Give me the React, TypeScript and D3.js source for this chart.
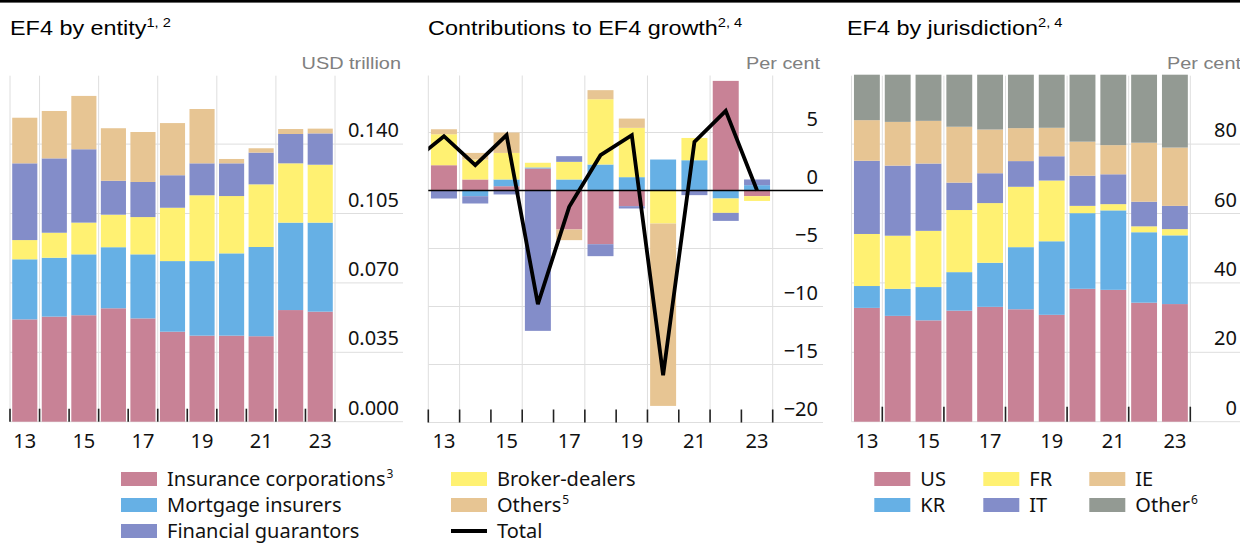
import React from 'react';
import * as d3 from 'd3';

// ---------- DATA ----------
const years = ['2013', '2014', '2015', '2016', '2017', '2018', '2019', '2020', '2021', '2022', '2023'];
const yearTickLabels = ['13', '15', '17', '19', '21', '23'];

// Panel 1: EF4 by entity (USD trillion)
const entityInsurance = [0.0516, 0.053, 0.0537, 0.0572, 0.0521, 0.0454, 0.0434, 0.0434, 0.0431, 0.0563, 0.0555];
const entityMortgage = [0.0303, 0.0297, 0.0307, 0.0308, 0.0323, 0.0356, 0.0376, 0.0415, 0.045, 0.0441, 0.0449];
const entityBroker = [0.0097, 0.0126, 0.016, 0.0164, 0.0188, 0.0269, 0.0332, 0.0289, 0.0316, 0.0299, 0.0292];
const entityGuarantors = [0.0387, 0.0375, 0.037, 0.0171, 0.0177, 0.0164, 0.0161, 0.0165, 0.016, 0.0148, 0.0158];
const entityOthers = [0.023, 0.0239, 0.0269, 0.0265, 0.0252, 0.0263, 0.0274, 0.0022, 0.0022, 0.0025, 0.0024];
const entityTicks = [0, 0.035, 0.07, 0.105, 0.14];
const entityTickLabels = ['0.000', '0.035', '0.070', '0.105', '0.140'];

// Panel 2: Contributions to EF4 growth (per cent)
const growthInsurance = [2.18, 0.95, 0.37, 1.9, -3.36, -4.63, -1.35, 0, 0, 9.45, -0.49];
const growthMortgage = [0, -0.49, 0.58, 0.09, 0.95, 2.24, 1.15, 2.67, 2.61, -0.69, 0.46];
const growthBroker = [2.67, 1.72, 2.29, 0.4, 1.52, 5.63, 4.25, -2.85, 1.92, -1.24, -0.41];
const growthGuarantors = [-0.69, -0.63, -0.34, -12.1, 0.49, -1.03, -0.2, 0, -0.4, -0.69, 0.49];
const growthOthers = [0.43, 0.57, 1.76, 0, -0.92, 0.78, 0.8, -15.72, 0, 0, 0];
const totalYears = [2012, 2013, 2014, 2015, 2016, 2017, 2018, 2019, 2020, 2021, 2022, 2023];
const growthTotal = [2.5, 4.68, 2.18, 4.77, -9.8, -1.41, 3.04, 4.77, -15.92, 4.19, 6.86, 0.0];
const growthTicks = [5, 0, -5, -10, -15, -20];

// Panel 3: EF4 by jurisdiction (per cent)
const jurUS = [32.8, 30.5, 29.2, 32.0, 33.1, 32.4, 30.8, 38.3, 38.0, 34.3, 33.9];
const jurKR = [6.3, 7.8, 9.6, 11.1, 12.7, 17.9, 21.2, 21.8, 22.9, 20.3, 19.8];
const jurFR = [15.0, 15.3, 16.2, 17.9, 17.2, 17.4, 17.5, 2.1, 1.8, 1.7, 1.8];
const jurIT = [21.1, 20.2, 19.4, 7.9, 8.6, 7.4, 7.0, 8.7, 8.6, 7.1, 6.7];
const jurIE = [11.7, 12.6, 12.3, 16.1, 12.6, 9.5, 8.2, 9.8, 8.4, 17.0, 16.8];
const jurOther = [13.1, 13.6, 13.3, 15.0, 15.8, 15.4, 15.3, 19.3, 20.3, 19.6, 21.0];
const jurTicks = [0, 20, 40, 60, 80];

// ---------- STYLE ----------
const C = {
  pink: '#c88296',
  blue: '#66b0e5',
  yellow: '#fff172',
  purple: '#838dc9',
  tan: '#e7c593',
  grey: '#939a93',
};
const GRID = '#dedede';
const SANS = "'Noto Sans', 'Open Sans', sans-serif";
const ARIAL = "'Liberation Sans', Arial, sans-serif";
const STRETCH = 1.17;

type Series = { key: string; values: number[]; color: string };

type PanelCfg = {
  x0: number;
  x1: number;
  top: number;
  bottom: number;
  domain: [number, number];
  padding: number;
  gridRight: number;
  labelRight: number;
  ticks: number[];
  tickLabels: string[];
  allTicks: boolean;
  tickLen: number;
  zeroLine?: boolean;
};

function Panel({ cfg, series, diverging, children }: { cfg: PanelCfg; series: Series[]; diverging?: boolean; children?: (x: d3.ScaleBand<string>, y: d3.ScaleLinear<number, number>) => React.ReactNode }) {
  const x = d3.scaleBand<string>().domain(years).range([cfg.x0, cfg.x1]).paddingInner(cfg.padding).paddingOuter(cfg.padding / 2);
  const y = d3.scaleLinear().domain(cfg.domain).range([cfg.bottom, cfg.top]);
  const rows = years.map((yr, i) => {
    const r: any = { year: yr };
    series.forEach((s) => (r[s.key] = s.values[i]));
    return r;
  });
  const stack = d3
    .stack<any>()
    .keys(series.map((s) => s.key))
    .offset(diverging ? d3.stackOffsetDiverging : d3.stackOffsetNone);
  const stacked = stack(rows);
  const step = x.step();
  const boundary = (i: number) => cfg.x0 + i * step;
  const vLines = [0, 1, 3, 5, 7, 9, 11];
  const tickIdx = cfg.allTicks ? d3.range(0, 12) : [1, 3, 5, 7, 9, 11];
  const base = y(cfg.domain[0]);
  return (
    <g>
      {cfg.ticks.map((t) => (
        <line key={'h' + t} x1={cfg.x0} x2={cfg.gridRight} y1={y(t)} y2={y(t)} stroke={GRID} strokeWidth={1} />
      ))}
      {vLines.map((i) => (
        <line key={'v' + i} x1={boundary(i)} x2={boundary(i)} y1={cfg.top + 1} y2={base} stroke={GRID} strokeWidth={1} />
      ))}
      {stacked.map((layer, li) => (
        <g key={layer.key} fill={series[li].color}>
          {layer.map((d, i) => {
            const y0 = y(d[0]);
            const y1 = y(d[1]);
            const h = Math.abs(y0 - y1);
            if (h < 0.01) return null;
            return <rect key={i} x={x(years[i])} y={Math.min(y0, y1)} width={x.bandwidth()} height={h} />;
          })}
        </g>
      ))}
      {cfg.zeroLine && <line x1={cfg.x0} x2={cfg.gridRight} y1={y(0)} y2={y(0)} stroke="#000" strokeWidth={1.6} />}
      {tickIdx.map((i) => (
        <line key={'t' + i} x1={boundary(i)} x2={boundary(i)} y1={base} y2={base - cfg.tickLen} stroke="#222" strokeWidth={1.6} />
      ))}
      {children && children(x, y)}
      {cfg.ticks.map((t, i) => (
        <text key={'l' + t} x={cfg.labelRight} y={y(t) - 7} textAnchor="end" fontFamily={SANS} fontSize={20} fill="#111">
          {cfg.tickLabels[i]}
        </text>
      ))}
      {yearTickLabels.map((lab, k) => (
        <text key={'x' + lab} x={(x(years[k * 2]) as number) + x.bandwidth() / 2} y={448} textAnchor="middle" fontFamily={SANS} fontSize={20} fill="#111">
          {lab}
        </text>
      ))}
    </g>
  );
}

function Title({ x, text, sup }: { x: number; text: string; sup: string }) {
  return (
    <text transform={`translate(${x},34.5) scale(${STRETCH},1)`} fontFamily={ARIAL} fontSize={20} fill="#000">
      {text}
      <tspan fontSize={12.5} dy={-8}>{sup}</tspan>
    </text>
  );
}

function Unit({ x, text }: { x: number; text: string }) {
  return (
    <text transform={`translate(${x},68.5) scale(${STRETCH},1)`} textAnchor="end" fontFamily={ARIAL} fontSize={17} fill="#808080">
      {text}
    </text>
  );
}

type LegendItem = { label: string; sup?: string; color: string; line?: boolean };

function Legend({ itemsByCol, colX }: { itemsByCol: LegendItem[][]; colX: number[] }) {
  return (
    <g>
      {itemsByCol.map((col, ci) =>
        col.map((it, ri) => {
          const sx = colX[ci];
          const cy = 479 + ri * 26;
          return (
            <g key={ci + '-' + ri}>
              {it.line ? (
                <line x1={sx} x2={sx + 36} y1={cy} y2={cy} stroke="#000" strokeWidth={3.8} />
              ) : (
                <rect x={sx} y={cy - 7} width={36} height={14} fill={it.color} />
              )}
              <text x={sx + 46} y={cy + 7} fontFamily={SANS} fontSize={20} fill="#111">
                {it.label}
              </text>
              {it.sup && (
                <text x={sx + 46 + measure(it.label) + 1} y={cy - 1} fontFamily={SANS} fontSize={12} fill="#111">
                  {it.sup}
                </text>
              )}
            </g>
          );
        })
      )}
    </g>
  );
}

// approximate width of a label in Noto Sans 20px using a canvas measurement
let ctx: CanvasRenderingContext2D | null = null;
function measure(s: string): number {
  if (typeof document === 'undefined') return s.length * 10;
  if (!ctx) {
    const c = document.createElement('canvas');
    ctx = c.getContext('2d');
  }
  if (!ctx) return s.length * 10;
  ctx.font = "20px 'Noto Sans'";
  return ctx.measureText(s).width;
}

export default function App() {
  const p1: PanelCfg = {
    x0: 10, x1: 335, top: 74.7, bottom: 421.7, domain: [0, 0.175], padding: 0.15,
    gridRight: 403, labelRight: 399, ticks: entityTicks, tickLabels: entityTickLabels, allTicks: true, tickLen: 13,
  };
  const p2: PanelCfg = {
    x0: 428.3, x1: 772.7, top: 74.5, bottom: 422.5, domain: [-20, 10], padding: 0.17,
    gridRight: 823, labelRight: 818, ticks: growthTicks, tickLabels: growthTicks.map((t) => (t < 0 ? '\u2212' + Math.abs(t) : String(t))),
    allTicks: true, tickLen: 13, zeroLine: true,
  };
  const p3: PanelCfg = {
    x0: 851.5, x1: 1190.3, top: 74.7, bottom: 421.7, domain: [0, 100], padding: 0.16,
    gridRight: 1240, labelRight: 1237, ticks: jurTicks, tickLabels: jurTicks.map(String), allTicks: false, tickLen: 15,
  };

  const entitySeries: Series[] = [
    { key: 'Insurance corporations', values: entityInsurance, color: C.pink },
    { key: 'Mortgage insurers', values: entityMortgage, color: C.blue },
    { key: 'Broker-dealers', values: entityBroker, color: C.yellow },
    { key: 'Financial guarantors', values: entityGuarantors, color: C.purple },
    { key: 'Others', values: entityOthers, color: C.tan },
  ];
  const growthSeries: Series[] = [
    { key: 'Insurance corporations', values: growthInsurance, color: C.pink },
    { key: 'Mortgage insurers', values: growthMortgage, color: C.blue },
    { key: 'Broker-dealers', values: growthBroker, color: C.yellow },
    { key: 'Financial guarantors', values: growthGuarantors, color: C.purple },
    { key: 'Others', values: growthOthers, color: C.tan },
  ];
  const jurSeries: Series[] = [
    { key: 'US', values: jurUS, color: C.pink },
    { key: 'KR', values: jurKR, color: C.blue },
    { key: 'FR', values: jurFR, color: C.yellow },
    { key: 'IT', values: jurIT, color: C.purple },
    { key: 'IE', values: jurIE, color: C.tan },
    { key: 'Other', values: jurOther, color: C.grey },
  ];

  return (
    <svg width={1240} height={543} style={{ position: 'absolute', left: 0, top: 0, background: '#fff' }}>
      <rect x={0} y={0} width={1240} height={543} fill="#fff" />
      <rect x={0} y={0} width={1240} height={2.6} fill="#000" />
      <defs>
        <clipPath id="clip2">
          <rect x={p2.x0} y={0} width={p2.x1 - p2.x0 + 60} height={543} />
        </clipPath>
      </defs>

      <Title x={10} text="EF4 by entity" sup="1, 2" />
      <Title x={428} text="Contributions to EF4 growth" sup="2, 4" />
      <Title x={847} text="EF4 by jurisdiction" sup="2, 4" />
      <Unit x={401} text="USD trillion" />
      <Unit x={820} text="Per cent" />
      <Unit x={1241} text="Per cent" />

      <Panel cfg={p1} series={entitySeries} />
      <Panel cfg={p2} series={growthSeries} diverging>
        {(x, y) => {
          const c0 = (x(years[0]) as number) + x.bandwidth() / 2;
          const c1 = (x(years[years.length - 1]) as number) + x.bandwidth() / 2;
          const xs = d3.scaleLinear().domain([2013, 2023]).range([c0, c1]);
          const line = d3
            .line<number>()
            .x((_, i) => xs(totalYears[i]))
            .y((d) => y(d));
          return (
            <path d={line(growthTotal) || ''} fill="none" stroke="#000" strokeWidth={3.8} strokeLinejoin="miter" clipPath="url(#clip2)" />
          );
        }}
      </Panel>
      <Panel cfg={p3} series={jurSeries} />

      <Legend
        colX={[121, 451]}
        itemsByCol={[
          [
            { label: 'Insurance corporations', sup: '3', color: C.pink },
            { label: 'Mortgage insurers', color: C.blue },
            { label: 'Financial guarantors', color: C.purple },
          ],
          [
            { label: 'Broker-dealers', color: C.yellow },
            { label: 'Others', sup: '5', color: C.tan },
            { label: 'Total', color: '#000', line: true },
          ],
        ]}
      />
      <Legend
        colX={[874.3, 983.3, 1089.3]}
        itemsByCol={[
          [
            { label: 'US', color: C.pink },
            { label: 'KR', color: C.blue },
          ],
          [
            { label: 'FR', color: C.yellow },
            { label: 'IT', color: C.purple },
          ],
          [
            { label: 'IE', color: C.tan },
            { label: 'Other', sup: '6', color: C.grey },
          ],
        ]}
      />
    </svg>
  );
}
